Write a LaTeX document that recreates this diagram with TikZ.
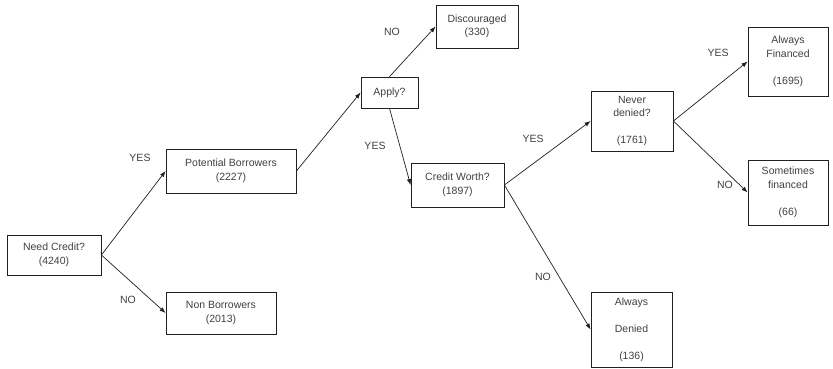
\documentclass[tikz,border=0pt]{standalone}
\usepackage{fontspec}
\setmainfont{Liberation Sans}
\usetikzlibrary{arrows.meta}
\definecolor{txt}{HTML}{404040}
\definecolor{ln}{HTML}{202020}
\begin{document}
\begin{tikzpicture}[x=1pt,y=-1pt,
  every node/.style={font=\fontsize{10.5}{13.5}\selectfont, text=txt},
  box/.style={draw=ln, line width=0.8pt, inner sep=0pt, align=center},
  lab/.style={inner sep=0pt},
  conn/.style={draw=ln, line width=0.7pt, -{Latex[length=6pt,width=4.5pt]}}]
\useasboundingbox (0,0) rectangle (833,369);
\node[box, minimum width=94pt, minimum height=40pt] (nc) at (54,255) {Need Credit?\\(4240)};
\node[box, minimum width=110pt, minimum height=42pt] (nb) at (221,313) {Non Borrowers\\(2013)};
\node[box, minimum width=130pt, minimum height=44pt] (pb) at (231,171) {Potential Borrowers\\(2227)};
\node[box, minimum width=57pt, minimum height=31pt] (ap) at (389.5,92.5) {Apply?};
\node[box, minimum width=82pt, minimum height=43pt] (di) at (477,26.5) {Discouraged\\(330)};
\node[box, minimum width=93pt, minimum height=44pt] (cw) at (457.5,185) {Credit Worth?\\(1897)};
\node[box, minimum width=82pt, minimum height=60pt] (nd) at (632,121) {Never\\denied?\\\mbox{}\\(1761)};
\node[box, minimum width=80pt, minimum height=69pt] (af) at (788,61.5) {Always\\Financed\\\mbox{}\\(1695)};
\node[box, minimum width=80pt, minimum height=65pt] (sf) at (788,192.5) {Sometimes\\financed\\\mbox{}\\(66)};
\node[box, minimum width=81pt, minimum height=75pt] (ad) at (631.5,329.5) {Always\\\mbox{}\\Denied\\\mbox{}\\(136)};
\draw[conn] (nc.east) -- (pb.west);
\draw[conn] (nc.east) -- (nb.west);
\draw[conn] (pb.east) -- (ap.west);
\draw[conn] (ap.north) -- (di.west);
\draw[conn] (ap.south) -- (cw.west);
\draw[conn] (cw.east) -- (nd.west);
\draw[conn] (cw.east) -- (ad.west);
\draw[conn] (nd.east) -- (af.west);
\draw[conn] (nd.east) -- (sf.west);
\node[lab] (l1) at (140,158) {YES};
\node[lab] (l2) at (128,300) {NO};
\node[lab] (l3) at (392,32) {NO};
\node[lab] (l4) at (375,146) {YES};
\node[lab] (l5) at (533,139) {YES};
\node[lab] (l6) at (543,277) {NO};
\node[lab] (l7) at (718,53) {YES};
\node[lab] (l8) at (725,185) {NO};
\end{tikzpicture}
\end{document}
